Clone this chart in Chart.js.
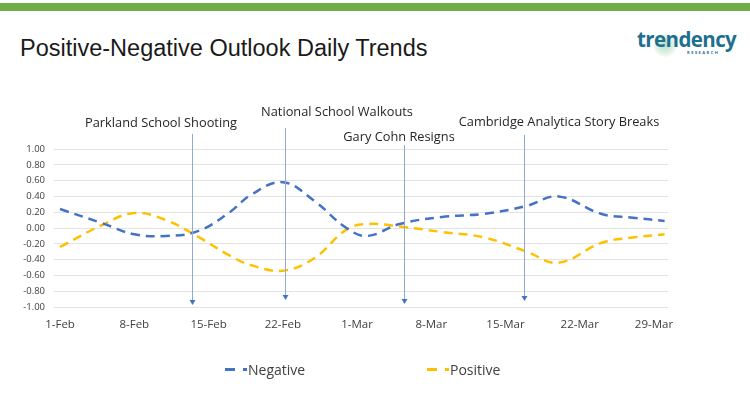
<!DOCTYPE html>
<html>
<head>
<meta charset="utf-8">
<script src="https://cdn.jsdelivr.net/npm/chart.js@4.4.1/dist/chart.umd.min.js"></script>
<style>
  html, body { margin: 0; padding: 0; background: #fff; }
  #page { position: relative; width: 750px; height: 398px; overflow: hidden; }
  #topbar { position: absolute; left: 0; top: 3px; width: 750px; height: 8px; background: #70ad47; }
  #title { position: absolute; left: 20px; top: 35px; font-family: "Liberation Sans", sans-serif; font-size: 23.5px; color: #1a1a1a; white-space: nowrap; }
  #logo { position: absolute; left: 637px; top: 25px; font-family: "Open Sans", sans-serif; font-weight: 700; font-size: 20.5px; color: #1f6f8f; letter-spacing: -0.6px; }
  #logo .glow { position: absolute; left: 16px; top: 8px; width: 24px; height: 24px; border-radius: 50%; background: radial-gradient(circle, rgba(120,200,150,0.55) 0%, rgba(150,210,170,0.25) 55%, rgba(255,255,255,0) 75%); }
  #logo .word { position: relative; }
  #logo .sub { position: absolute; left: 50px; top: 25px; font-size: 4px; letter-spacing: 1.5px; color: #1f6f8f; }
  #chart { position: absolute; left: 0; top: 0; }
  #legend { position: absolute; top: 360px; left: 0; width: 750px; height: 20px; font-family: "Open Sans", sans-serif; font-size: 14px; color: #404040; }
  .item { position: absolute; top: 0; display: flex; align-items: center; }
  .swatch { display: inline-block; width: 22px; height: 3px; margin-right: 1px; }
</style>
</head>
<body>
<div id="page">
  <div id="topbar"></div>
  <div id="title">Positive-Negative Outlook Daily Trends</div>
  <div id="logo"><span class="glow"></span><span class="word">trendency</span><span class="sub">RESEARCH</span></div>
  <canvas id="chart" width="750" height="398"></canvas>
  <div id="legend"></div>
</div>
<script>
// days counted from 1-Feb
const tickDays = [0, 7, 14, 21, 28, 35, 42, 49, 56];
const tickLabels = ["1-Feb", "8-Feb", "15-Feb", "22-Feb", "1-Mar", "8-Mar", "15-Mar", "22-Mar", "29-Mar"];
const pointDays = [0, 4, 7, 10, 13, 16, 18, 21, 24, 27, 29, 32, 36, 40, 44, 47, 51, 54, 57];
const negative = [0.24, 0.06, -0.08, -0.10, -0.04, 0.20, 0.42, 0.58, 0.34, 0.00, -0.10, 0.05, 0.14, 0.18, 0.28, 0.40, 0.18, 0.13, 0.09];
const positive = [-0.24, 0.04, 0.19, 0.10, -0.11, -0.35, -0.47, -0.54, -0.38, -0.02, 0.05, 0.02, -0.05, -0.12, -0.30, -0.44, -0.19, -0.12, -0.08];
const seriesNames = ["Negative", "Positive"];
const seriesColors = ["#4472c4", "#ffc000"];

// events marked with arrows
const eventDays = [12.4, 21.2, 32.4, 43.7];
const eventLabels = ["Parkland School Shooting", "National School Walkouts", "Gary Cohn Resigns", "Cambridge Analytica Story Breaks"];

function toPoints(values) {
  return pointDays.map((d, i) => ({ x: d, y: values[i] }));
}

// arrows + event text (pixel placement only)
const eventArrows = {
  id: "eventArrows",
  afterDatasetsDraw(chart) {
    const { ctx, scales } = chart;
    const textY = [123, 112, 137, 122];
    const textX = [161, 337, 399, 559];
    const lineTop = [134, 128, 145, 135];
    const lineBottom = [305, 300, 304, 301];
    ctx.save();
    eventDays.forEach((d, i) => {
      const x = Math.round(scales.x.getPixelForValue(d)) + 0.5;
      ctx.strokeStyle = "#8eaadb";
      ctx.lineWidth = 1;
      ctx.beginPath();
      ctx.moveTo(x, lineTop[i]);
      ctx.lineTo(x, lineBottom[i] - 4);
      ctx.stroke();
      ctx.fillStyle = "#4472c4";
      ctx.beginPath();
      ctx.moveTo(x - 3, lineBottom[i] - 5);
      ctx.lineTo(x + 3, lineBottom[i] - 5);
      ctx.lineTo(x, lineBottom[i]);
      ctx.closePath();
      ctx.fill();

      ctx.fillStyle = "#262626";
      ctx.font = '12.8px "Open Sans", sans-serif';
      ctx.textAlign = "center";
      ctx.textBaseline = "middle";
      ctx.fillText(eventLabels[i], textX[i], textY[i]);
    });
    ctx.restore();
  },
};

new Chart(document.getElementById("chart").getContext("2d"), {
  type: "line",
  data: {
    datasets: seriesNames.map((name, i) => ({
      label: name,
      data: toPoints(i === 0 ? negative : positive),
      borderColor: seriesColors[i],
      backgroundColor: seriesColors[i],
      borderWidth: 2.5,
      borderDash: [9, 6],
      pointRadius: 0,
      tension: 0.4,
      fill: false,
    })),
  },
  options: {
    responsive: false,
    animation: false,
    layout: { padding: { left: 0, right: 82, top: 149, bottom: 61 } },
    scales: {
      x: {
        type: "linear",
        min: -0.57,
        max: 57.32,
        afterBuildTicks: (axis) => {
          axis.ticks = tickDays.map((v) => ({ value: v }));
        },
        afterFit: (axis) => { axis.height = 30; },
        grid: { display: false, drawTicks: false },
        border: { display: false },
        ticks: {
          padding: 11,
          maxRotation: 0,
          autoSkip: false,
          color: "#404040",
          font: { family: "Open Sans", size: 11.5 },
          callback: (v) => tickLabels[tickDays.indexOf(v)] ?? "",
        },
      },
      y: {
        min: -1,
        max: 1,
        afterFit: (axis) => { axis.width = 54; },
        grid: { color: "#e3e3e3", lineWidth: 1, drawTicks: false },
        border: { display: false },
        ticks: {
          stepSize: 0.2,
          padding: 9,
          color: "#404040",
          font: { family: "Open Sans", size: 9.5 },
          callback: (v) => Number(v).toFixed(2),
        },
      },
    },
    plugins: {
      legend: { display: false },
      tooltip: { enabled: false },
    },
  },
  plugins: [eventArrows],
});

// legend
const legendX = [225, 427];
const legend = document.getElementById("legend");
seriesNames.forEach((name, i) => {
  const c = seriesColors[i];
  const item = document.createElement("div");
  item.className = "item";
  item.style.left = legendX[i] + "px";
  item.innerHTML =
    `<span class="swatch" style="background: linear-gradient(to right, ${c} 0 10px, transparent 10px 18px, ${c} 18px 22px)"></span>` +
    `<span>${name}</span>`;
  legend.appendChild(item);
});
</script>
</body>
</html>
